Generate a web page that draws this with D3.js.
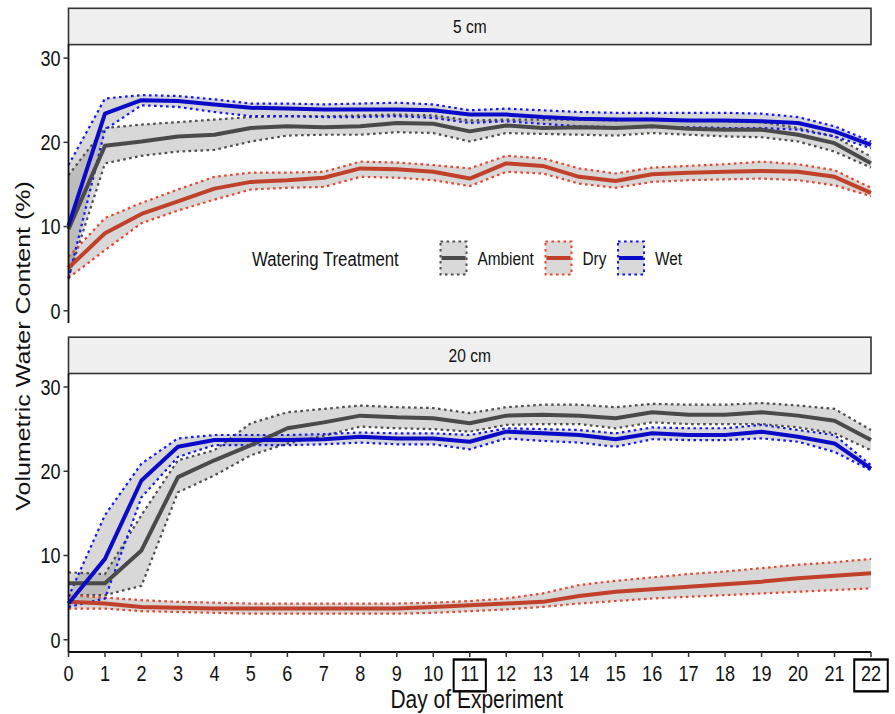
<!DOCTYPE html>
<html>
<head>
<meta charset="utf-8">
<script src="https://cdn.jsdelivr.net/npm/d3@7"></script>
<style>
  body { margin: 0; background: #fff; }
  text { font-family: "Liberation Sans", Arial, sans-serif; fill: #111; }
</style>
</head>
<body>
<svg id="chart" width="895" height="714"></svg>
<script>
// ---- data ----
const days = [0,1,2,3,4,5,6,7,8,9,10,11,12,13,14,15,16,17,18,19,20,21,22];
const treatments = ["Ambient", "Dry", "Wet"];
const depths = ["5 cm", "20 cm"];
const yTicks = [0, 10, 20, 30];
const boxedDays = [11, 22];

// 5 cm
const ambient5   = [9.7,19.6,20.1,20.7,20.9,21.7,21.9,21.8,21.9,22.3,22.2,21.3,22.0,21.7,21.8,21.7,21.9,21.6,21.5,21.5,20.9,19.9,17.5];
const ambient5Lo = [4.0,17.5,18.4,18.9,19.1,20.1,20.8,20.9,20.9,21.2,21.1,20.1,21.1,21.0,20.9,20.8,21.1,20.9,20.7,20.6,20.1,18.9,17.0];
const ambient5Hi = [16.1,21.7,22.1,22.4,22.7,23.0,23.1,23.1,23.2,23.3,23.2,22.6,22.7,22.7,22.7,22.6,22.8,22.6,22.5,22.4,21.7,20.7,18.3];
const dry5       = [5.1,9.2,11.5,13.0,14.5,15.3,15.5,15.8,16.9,16.8,16.5,15.7,17.5,17.2,15.9,15.4,16.2,16.4,16.5,16.6,16.5,15.9,14.0];
const dry5Lo     = [3.9,7.2,10.4,11.9,13.2,14.4,14.6,14.7,15.9,15.8,15.5,14.8,16.5,16.3,15.1,14.6,15.3,15.5,15.6,15.7,15.5,14.9,13.6];
const dry5Hi     = [6.4,11.0,12.8,14.4,15.9,16.4,16.4,16.5,17.7,17.6,17.3,16.9,18.4,18.1,16.9,16.3,17.0,17.2,17.4,17.7,17.4,16.7,14.6];
const wet5       = [10.1,23.4,25.0,24.9,24.5,24.1,24.0,23.9,23.9,23.9,23.8,23.3,23.3,23.0,22.8,22.7,22.7,22.6,22.6,22.5,22.3,21.3,19.7];
const wet5Lo     = [3.8,21.5,24.4,24.2,23.6,23.1,23.1,23.0,23.0,23.1,22.9,22.3,22.5,22.2,21.9,21.8,21.8,21.8,21.7,21.7,21.5,20.7,19.3];
const wet5Hi     = [17.3,25.2,25.6,25.5,25.1,24.6,24.6,24.5,24.6,24.7,24.5,23.8,24.0,23.8,23.6,23.5,23.5,23.5,23.5,23.4,23.0,21.9,20.1];

// 20 cm
const ambient20   = [6.7,6.7,10.6,19.3,21.3,23.1,25.1,25.8,26.6,26.4,26.3,25.7,26.6,26.7,26.6,26.3,27.0,26.7,26.7,27.0,26.6,26.0,23.7];
const ambient20Lo = [5.3,5.3,6.4,17.5,19.5,21.9,23.3,24.2,25.3,25.1,25.0,24.7,25.5,25.6,25.6,25.1,25.8,25.6,25.6,25.6,25.2,24.5,22.5];
const ambient20Hi = [8.0,7.8,14.8,21.3,22.5,25.7,27.0,27.4,27.8,27.6,27.5,26.9,27.6,27.9,27.9,27.6,28.0,27.9,27.9,28.1,27.8,27.4,24.9];
const dry20       = [4.5,4.3,3.9,3.8,3.7,3.7,3.7,3.7,3.7,3.7,3.9,4.1,4.3,4.5,5.2,5.7,6.0,6.3,6.6,6.9,7.3,7.6,7.9];
const dry20Lo     = [3.7,3.7,3.4,3.3,3.2,3.1,3.1,3.1,3.1,3.1,3.2,3.4,3.6,3.9,4.3,4.6,4.9,5.1,5.3,5.5,5.7,5.9,6.1];
const dry20Hi     = [5.3,5.0,4.7,4.5,4.4,4.3,4.3,4.3,4.3,4.3,4.4,4.6,4.9,5.5,6.5,7.0,7.4,7.8,8.1,8.5,8.9,9.2,9.6];
const wet20       = [4.3,9.6,18.9,22.9,23.7,23.7,23.7,23.8,24.1,23.9,23.9,23.5,24.7,24.5,24.3,23.8,24.5,24.3,24.3,24.7,24.1,23.3,20.3];
const wet20Lo     = [3.9,4.9,16.9,21.7,23.1,23.1,23.1,23.2,23.4,23.2,23.2,22.6,23.9,23.6,23.4,22.9,23.8,23.7,23.7,23.9,23.5,22.3,20.1];
const wet20Hi     = [5.1,14.8,20.9,23.9,24.3,24.3,24.3,24.4,24.6,24.5,24.5,24.3,25.1,25.0,24.9,24.5,25.2,25.1,25.1,25.5,24.9,24.3,20.7];

const panelData = {
  "5 cm":  { Ambient: [ambient5, ambient5Lo, ambient5Hi],   Dry: [dry5, dry5Lo, dry5Hi],   Wet: [wet5, wet5Lo, wet5Hi] },
  "20 cm": { Ambient: [ambient20, ambient20Lo, ambient20Hi], Dry: [dry20, dry20Lo, dry20Hi], Wet: [wet20, wet20Lo, wet20Hi] }
};

// ---- styles ----
const lineColor = { Ambient: "#4a4a4a", Dry: "#c0402a", Wet: "#0a0ac8" };
const dotColor  = { Ambient: "#4d4d4d", Dry: "#e8462c", Wet: "#1414ff" };
const squeeze = 0.84;   // the original text is horizontally condensed

const svg = d3.select("#chart");
const left = 68.5, right = 871;
const stripH = 36.3;
const panels = [
  { depth: "5 cm",  stripTop: 8.3,   top: 44.6,  bottom: 323 },
  { depth: "20 cm", stripTop: 337.2, top: 373.5, bottom: 652 }
];

const x = d3.scaleLinear().domain([0, 22]).range([left, right]);

function sqText(g, tx, ty, str, size, anchor, rot, sq) {
  const t = g.append("g")
    .attr("transform", `translate(${tx},${ty}) scale(${sq || squeeze},1)` + (rot ? ` rotate(${rot})` : ""))
    .append("text")
    .attr("text-anchor", anchor || "start")
    .style("font-size", size + "px")
    .text(str);
  return t;
}

panels.forEach(p => {
  const y = d3.scaleLinear().domain([-1.45, 31.6]).range([p.bottom, p.top]);
  const g = svg.append("g");

  // strip
  g.append("rect")
    .attr("x", left).attr("y", p.stripTop)
    .attr("width", right - left).attr("height", stripH)
    .attr("fill", "#f0f0f0").attr("stroke", "#333").attr("stroke-width", 1.6);
  sqText(g, (left + right) / 2, p.stripTop + stripH / 2 + 6.5, p.depth, 18.5, "middle");

  const area = d3.area()
    .x((d, i) => x(days[i]))
    .y0(d => y(d[0]))
    .y1(d => y(d[1]));
  const line = d3.line()
    .x((d, i) => x(days[i]))
    .y(d => y(d));

  const data = panelData[p.depth];

  // ribbons
  treatments.forEach(t => {
    const [, lo, hi] = data[t];
    g.append("path")
      .datum(lo.map((v, i) => [v, hi[i]]))
      .attr("d", area)
      .attr("fill", "#7f7f7f").attr("fill-opacity", 0.3);
  });
  // dotted bounds
  treatments.forEach(t => {
    const [, lo, hi] = data[t];
    [lo, hi].forEach(s => {
      g.append("path").datum(s).attr("d", line)
        .attr("fill", "none").attr("stroke", dotColor[t])
        .attr("stroke-width", 2.2).attr("stroke-dasharray", "2.6,3.4");
    });
  });
  // mean lines
  treatments.forEach(t => {
    g.append("path").datum(data[t][0]).attr("d", line)
      .attr("fill", "none").attr("stroke", lineColor[t])
      .attr("stroke-width", 4).attr("stroke-linejoin", "round");
  });

  // y axis
  g.append("line").attr("x1", left).attr("x2", left)
    .attr("y1", p.top).attr("y2", p.bottom)
    .attr("stroke", "#111").attr("stroke-width", 1.8);
  yTicks.forEach(v => {
    g.append("line").attr("x1", left - 5).attr("x2", left)
      .attr("y1", y(v)).attr("y2", y(v))
      .attr("stroke", "#333").attr("stroke-width", 1.5);
    sqText(g, left - 8, y(v) + 7.8, String(v), 21.5, "end");
  });

  // x axis only on bottom panel
  if (p.depth === "20 cm") {
    g.append("line").attr("x1", left).attr("x2", right)
      .attr("y1", p.bottom).attr("y2", p.bottom)
      .attr("stroke", "#111").attr("stroke-width", 1.8);
    days.forEach(d => {
      g.append("line").attr("x1", x(d)).attr("x2", x(d))
        .attr("y1", p.bottom).attr("y2", p.bottom + 5)
        .attr("stroke", "#333").attr("stroke-width", 1.5);
      const t = sqText(g, x(d), p.bottom + 28.5, String(d), 21.5, "middle");
      if (boxedDays.includes(d)) {
        const bb = t.node().getBBox();
        d3.select(t.node().parentNode).insert("rect", "text")
          .attr("x", bb.x - 8).attr("y", bb.y - 1.5)
          .attr("width", bb.width + 16).attr("height", bb.height + 8)
          .attr("fill", "none").attr("stroke", "#000").attr("stroke-width", 2.4);
      }
    });
  }
});

// axis titles
sqText(svg, 30, 346, "Volumetric Water Content (%)", 25, "middle", -90);
sqText(svg, (left + right) / 2 + 7, 708, "Day of Experiment", 25, "middle");

// legend
const leg = svg.append("g");
sqText(leg, 252, 265.5, "Watering Treatment", 21, "start", null, 0.80);
const keyX = { Ambient: 440.5, Dry: 545.5, Wet: 618 };
treatments.forEach(t => {
  const kx = keyX[t];
  leg.append("rect").attr("x", kx).attr("y", 241.5).attr("width", 26).attr("height", 33)
    .attr("fill", "#d9d9d9").attr("stroke", dotColor[t])
    .attr("stroke-width", 2).attr("stroke-dasharray", "2.6,3.4");
  leg.append("line").attr("x1", kx + 1).attr("x2", kx + 25)
    .attr("y1", 258).attr("y2", 258)
    .attr("stroke", lineColor[t]).attr("stroke-width", 4);
  sqText(leg, kx + 37, 265, t, 19, "start", null, 0.81);
});
</script>
</body>
</html>
